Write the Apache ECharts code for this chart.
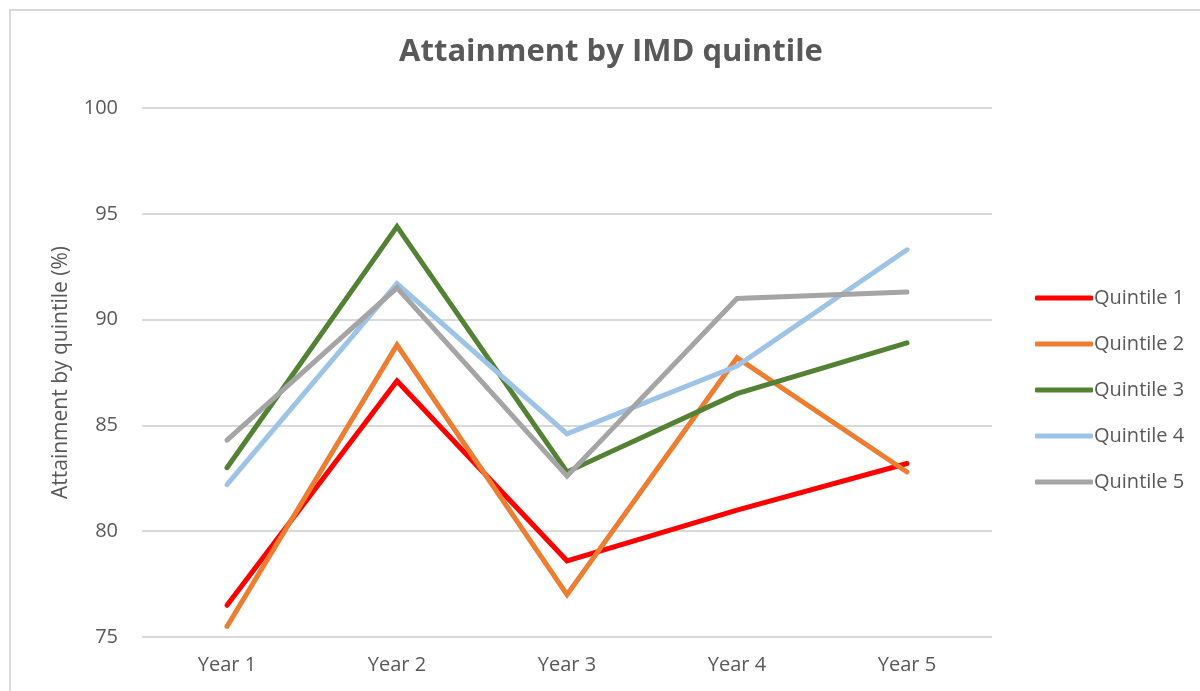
<!DOCTYPE html>
<html>
<head>
<meta charset="utf-8">
<script src="https://cdn.jsdelivr.net/npm/echarts@6/dist/echarts.min.js"></script>
<style>
    html, body { margin: 0; padding: 0; background: #fff; }
    #chart { width: 1200px; height: 691px; }
</style>
</head>
<body>
<div id="chart"></div>
<script>
// 数据
const years = ['Year 1', 'Year 2', 'Year 3', 'Year 4', 'Year 5'];
const quintile1 = [76.5, 87.1, 78.6, 81.0, 83.2];
const quintile2 = [75.5, 88.8, 77.0, 88.2, 82.8];
const quintile3 = [83.0, 94.4, 82.8, 86.5, 88.9];
const quintile4 = [82.2, 91.7, 84.6, 87.8, 93.3];
const quintile5 = [84.3, 91.5, 82.6, 91.0, 91.3];
const seriesNames = ['Quintile 1', 'Quintile 2', 'Quintile 3', 'Quintile 4', 'Quintile 5'];
const seriesColors = ['#ff0000', '#ed7d31', '#548235', '#9dc3e6', '#a5a5a5'];

const chart = echarts.init(document.getElementById('chart'));
const font = '"Open Sans", "Liberation Sans", sans-serif';

function makeSeries(name, data, color) {
    return {
        name: name,
        type: 'line',
        data: data,
        symbol: 'none',
        lineStyle: { width: 5, color: color, cap: 'round', join: 'miter' },
        itemStyle: { color: color }
    };
}

const option = {
    backgroundColor: '#fff',
    animation: false,
    title: {
        text: 'Attainment by IMD quintile',
        left: 606,
        top: 32,
        textAlign: 'center',
        textStyle: { fontFamily: font, fontSize: 31, fontWeight: 'bold', color: '#595959' }
    },
    legend: {
        orient: 'vertical',
        left: 1030,
        top: 283,
        itemWidth: 58,
        itemHeight: 5,
        itemGap: 26,
        icon: 'roundRect',
        textStyle: { fontFamily: font, fontSize: 20, color: '#595959', padding: [0, 0, 0, -4] },
        data: seriesNames
    },
    grid: { left: 142, right: 208, top: 108, bottom: 54 },
    xAxis: {
        type: 'category',
        data: years,
        boundaryGap: true,
        axisLine: { show: false },
        axisTick: { show: false },
        axisLabel: { fontFamily: font, fontSize: 20, color: '#595959', margin: 18 }
    },
    yAxis: {
        type: 'value',
        min: 75,
        max: 100,
        interval: 5,
        name: 'Attainment by quintile (%)',
        nameLocation: 'middle',
        nameGap: 70,
        nameTextStyle: { fontFamily: font, fontSize: 21, color: '#595959' },
        axisLine: { show: false },
        axisTick: { show: false },
        axisLabel: { fontFamily: font, fontSize: 20, color: '#595959', margin: 24 },
        splitLine: { lineStyle: { color: '#d9d9d9', width: 2 } }
    },
    graphic: [{
        type: 'rect',
        shape: { x: 10, y: 10, width: 1300, height: 800 },
        style: { fill: 'none', stroke: '#d9d9d9', lineWidth: 2 },
        silent: true,
        z: -1
    }],
    series: [
        makeSeries(seriesNames[0], quintile1, seriesColors[0]),
        makeSeries(seriesNames[1], quintile2, seriesColors[1]),
        makeSeries(seriesNames[2], quintile3, seriesColors[2]),
        makeSeries(seriesNames[3], quintile4, seriesColors[3]),
        makeSeries(seriesNames[4], quintile5, seriesColors[4])
    ]
};

chart.setOption(option);
</script>
</body>
</html>
